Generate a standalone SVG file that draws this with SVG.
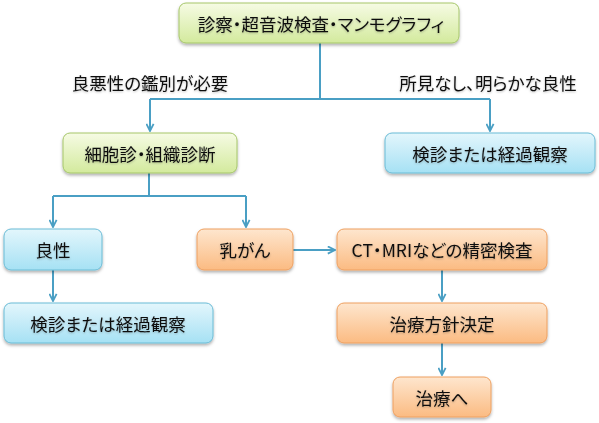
<svg xmlns="http://www.w3.org/2000/svg" width="599" height="423" viewBox="0 0 599 423">
<defs>
<linearGradient id="gGreen" x1="0" y1="0" x2="0" y2="1"><stop offset="0" stop-color="#f6fbe4"/><stop offset="1" stop-color="#d3ea9d"/></linearGradient>
<linearGradient id="gBlue" x1="0" y1="0" x2="0" y2="1"><stop offset="0" stop-color="#e3f6fc"/><stop offset="1" stop-color="#a6e1f4"/></linearGradient>
<linearGradient id="gOrange" x1="0" y1="0" x2="0" y2="1"><stop offset="0" stop-color="#fee6ce"/><stop offset="1" stop-color="#fbbb82"/></linearGradient>
<filter id="sh" x="-10%" y="-20%" width="120%" height="150%"><feDropShadow dx="0" dy="2" stdDeviation="1.5" flood-color="#000" flood-opacity="0.3"/></filter>
<filter id="tsh" x="-5%" y="-20%" width="110%" height="140%"><feDropShadow dx="0" dy="1" stdDeviation="0.8" flood-color="#000" flood-opacity="0.25"/></filter>
<marker id="arr" viewBox="0 0 10 10" refX="9" refY="5" markerWidth="9" markerHeight="9" markerUnits="userSpaceOnUse" orient="auto"><path d="M1,1 L9,5 L1,9" fill="none" stroke="#4a9fc4" stroke-width="2"/></marker>
</defs>
<style>
.green{fill:url(#gGreen);stroke:#a6c66a;stroke-width:1;filter:url(#sh)}
.blue{fill:url(#gBlue);stroke:#6bbcd6;stroke-width:1;filter:url(#sh)}
.orange{fill:url(#gOrange);stroke:#eea060;stroke-width:1;filter:url(#sh)}
text{font-family:"Noto Sans CJK JP","Noto Sans",sans-serif;font-size:17.5px;font-feature-settings:"palt";fill:#111;text-anchor:middle;dominant-baseline:central;filter:url(#tsh)}
.conn{fill:none;stroke:#4a9fc4;stroke-width:2}
</style>
<rect width="599" height="423" fill="#fff"/>
<g id="connectors">
<path class="conn" d="M320,43 V99"/>
<path class="conn" d="M150,99 H490"/>
<path class="conn" d="M150,99 V131" marker-end="url(#arr)"/>
<path class="conn" d="M490,99 V131" marker-end="url(#arr)"/>
<path class="conn" d="M149,173 V196"/>
<path class="conn" d="M53,196 H246"/>
<path class="conn" d="M53,196 V227" marker-end="url(#arr)"/>
<path class="conn" d="M246,196 V227" marker-end="url(#arr)"/>
<path class="conn" d="M53,270 V301" marker-end="url(#arr)"/>
<path class="conn" d="M293,250 H335" marker-end="url(#arr)"/>
<path class="conn" d="M442,270 V301" marker-end="url(#arr)"/>
<path class="conn" d="M442,343 V375" marker-end="url(#arr)"/>
</g>
<g id="label-left"><text x="150" y="82">良悪性の鑑別が必要</text></g>
<g id="label-right"><text x="488" y="82">所見なし、明らかな良性</text></g>
<g id="n-top"><rect class="green" x="179" y="3" width="280" height="40" rx="7"/><text x="321" y="23">診察・超音波検査・マンモグラフィ</text></g>
<g id="n-cyto"><rect class="green" x="63" y="133" width="174" height="40" rx="7"/><text x="150" y="153">細胞診・組織診断</text></g>
<g id="n-follow1"><rect class="blue" x="385" y="133" width="210" height="40" rx="7"/><text x="490" y="153">検診または経過観察</text></g>
<g id="n-benign"><rect class="blue" x="4" y="229" width="98" height="41" rx="7"/><text x="53" y="249">良性</text></g>
<g id="n-follow2"><rect class="blue" x="4" y="303" width="209" height="40" rx="7"/><text x="108" y="323">検診または経過観察</text></g>
<g id="n-cancer"><rect class="orange" x="197" y="229" width="96" height="41" rx="7"/><text x="245" y="249">乳がん</text></g>
<g id="n-ct"><rect class="orange" x="337" y="229" width="210" height="41" rx="7"/><text x="442" y="249">CT・MRIなどの精密検査</text></g>
<g id="n-policy"><rect class="orange" x="337" y="303" width="210" height="40" rx="7"/><text x="442" y="323">治療方針決定</text></g>
<g id="n-treat"><rect class="orange" x="393" y="377" width="98" height="40" rx="7"/><text x="442" y="397">治療へ</text></g>
</svg>
